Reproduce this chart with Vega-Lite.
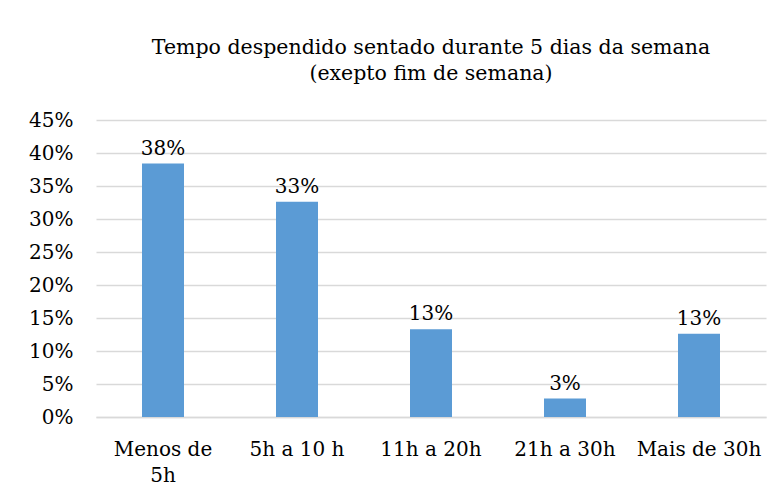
{
  "$schema": "https://vega.github.io/schema/vega-lite/v6.json",
  "width": 670,
  "height": 297,
  "autosize": {"type": "none"},
  "padding": {"left": 96, "top": 120, "right": 18, "bottom": 80},
  "background": "white",
  "title": {
    "text": ["Tempo despendido sentado durante 5 dias da semana", "(exepto fim de semana)"],
    "font": "DejaVu Serif",
    "fontSize": 20.5,
    "fontWeight": "normal",
    "color": "#000000",
    "anchor": "middle",
    "lineHeight": 26,
    "offset": 26
  },
  "data": {
    "values": [
      {"cat": "Menos de 5h", "v": 0.384},
      {"cat": "5h a 10 h", "v": 0.326},
      {"cat": "11h a 20h", "v": 0.133},
      {"cat": "21h a 30h", "v": 0.028},
      {"cat": "Mais de 30h", "v": 0.126}
    ]
  },
  "encoding": {
    "x": {
      "field": "cat",
      "type": "nominal",
      "sort": null,
      "scale": {"paddingInner": 0, "paddingOuter": 0},
      "axis": {
        "title": null,
        "labelAngle": 0,
        "labelFont": "DejaVu Serif",
        "labelFontSize": 20,
        "labelColor": "#000000",
        "labelPadding": 22,
        "labelLineHeight": 26,
        "labelExpr": "datum.value == 'Menos de 5h' ? ['Menos de', '5h'] : datum.value",
        "ticks": false,
        "domainColor": "#D9D9D9",
        "domainWidth": 1.5,
        "grid": false
      }
    },
    "y": {
      "field": "v",
      "type": "quantitative",
      "scale": {"domain": [0, 0.45], "nice": false},
      "axis": {
        "title": null,
        "values": [0, 0.05, 0.1, 0.15, 0.2, 0.25, 0.3, 0.35, 0.4, 0.45],
        "format": ".0%",
        "labelFont": "DejaVu Serif",
        "labelFontSize": 20,
        "labelColor": "#000000",
        "labelPadding": 23,
        "ticks": false,
        "domain": false,
        "grid": true,
        "gridColor": "#D9D9D9",
        "gridWidth": 1.5
      }
    }
  },
  "layer": [
    {
      "mark": {"type": "bar", "width": 42, "color": "#5B9BD5"}
    },
    {
      "mark": {"type": "text", "dy": -15, "font": "DejaVu Serif", "fontSize": 20, "color": "#000000"},
      "encoding": {
        "text": {"field": "v", "type": "quantitative", "format": ".0%"}
      }
    }
  ],
  "config": {
    "view": {"stroke": null}
  }
}
